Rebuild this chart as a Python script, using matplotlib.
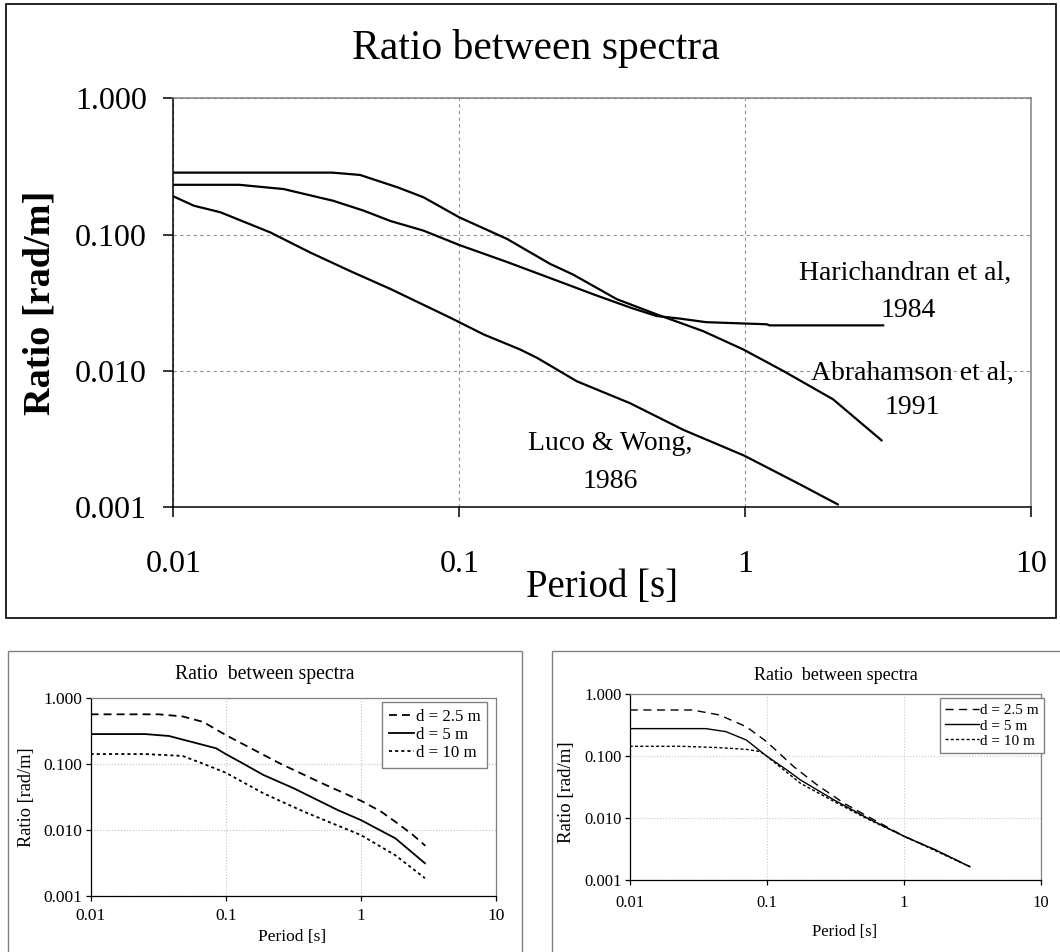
import matplotlib
matplotlib.use('Agg')
from matplotlib import pyplot as plt
from matplotlib.patches import Rectangle
from matplotlib.ticker import FixedLocator, NullLocator

plt.rcParams['font.family'] = ['Liberation Serif', 'DejaVu Serif']

W, H = 1060, 952

# ---- top chart: three published models
period_abr = [0.01, 0.036, 0.045, 0.061, 0.075, 0.10, 0.147, 0.208, 0.25, 0.356,
              0.491, 0.713, 0.984, 1.36, 2.03, 3.0]
ratio_abr = [0.285, 0.285, 0.274, 0.222, 0.188, 0.134, 0.093, 0.061, 0.051, 0.0336,
             0.026, 0.0196, 0.0144, 0.010, 0.0062, 0.0031]

period_har = [0.01, 0.017, 0.0243, 0.0363, 0.0463, 0.0574, 0.075, 0.10, 0.147, 0.208,
              0.30, 0.40, 0.49, 0.593, 0.73, 1.19, 1.22, 3.04]
ratio_har = [0.232, 0.232, 0.216, 0.177, 0.150, 0.126, 0.107, 0.084, 0.063, 0.048,
             0.036, 0.029, 0.0253, 0.0242, 0.0228, 0.022, 0.0216, 0.0216]

period_luco = [0.01, 0.0118, 0.0146, 0.0218, 0.0301, 0.0416, 0.0574, 0.093, 0.122,
               0.163, 0.187, 0.258, 0.396, 0.608, 0.99, 1.53, 2.11]
ratio_luco = [0.191, 0.163, 0.146, 0.104, 0.074, 0.054, 0.040, 0.0246, 0.0185,
              0.0144, 0.0125, 0.0084, 0.0058, 0.0037, 0.0024, 0.0015, 0.00105]

# ---- bottom left: separation distance d
period_l25 = [0.01, 0.032, 0.048, 0.068, 0.10, 0.20, 0.254, 0.50, 1.0, 1.4, 1.8, 2.4, 3.0]
ratio_l25 = [0.56, 0.56, 0.52, 0.43, 0.272, 0.129, 0.10, 0.052, 0.0275, 0.019, 0.0132, 0.0085, 0.0057]
period_l5 = [0.01, 0.0254, 0.038, 0.085, 0.10, 0.135, 0.19, 0.32, 0.676, 1.0, 1.8, 2.98]
ratio_l5 = [0.281, 0.281, 0.263, 0.171, 0.14, 0.10, 0.0675, 0.0422, 0.0198, 0.014, 0.0074, 0.0031]
period_l10 = [0.01, 0.0254, 0.048, 0.068, 0.10, 0.19, 0.38, 1.0, 1.8, 2.98]
ratio_l10 = [0.14, 0.14, 0.131, 0.10, 0.073, 0.0356, 0.0187, 0.0083, 0.0041, 0.00184]

# ---- bottom right
period_r25 = [0.01, 0.0286, 0.045, 0.0708, 0.0996, 0.157, 0.233, 0.367, 0.547, 1.0, 1.70, 3.03]
ratio_r25 = [0.558, 0.558, 0.464, 0.30, 0.172, 0.068, 0.0343, 0.0173, 0.0106, 0.0051, 0.00306, 0.00164]
period_r5 = [0.01, 0.0359, 0.0504, 0.0708, 0.10, 0.14, 0.176, 0.31, 0.547, 1.0, 1.70, 3.03]
ratio_r5 = [0.279, 0.279, 0.249, 0.183, 0.10, 0.060, 0.0413, 0.0196, 0.0099, 0.0051, 0.00306, 0.00164]
period_r10 = [0.01, 0.024, 0.045, 0.0708, 0.089, 0.10, 0.176, 0.31, 0.547, 1.0, 3.03]
ratio_r10 = [0.1445, 0.1445, 0.1375, 0.129, 0.119, 0.10, 0.0365, 0.0185, 0.0096, 0.0051, 0.00164]

legend_labels = ['d = 2.5 m', 'd = 5 m', 'd = 10 m']
xticks = [0.01, 0.1, 1, 10]
xtick_labels = ['0.01', '0.1', '1', '10']
yticks = [0.001, 0.01, 0.1, 1]
ytick_labels = ['0.001', '0.010', '0.100', '1.000']


def fx(px):
    return px / W


def fy(py):
    return 1 - py / H


def setup(ax, grid_style, grid_color, tick_fs, tl, xpad, ypad, spine_lw):
    ax.set_xscale('log')
    ax.set_yscale('log')
    ax.set_xlim(0.01, 10)
    ax.set_ylim(0.001, 1)
    ax.xaxis.set_major_locator(FixedLocator(xticks))
    ax.yaxis.set_major_locator(FixedLocator(yticks))
    ax.xaxis.set_minor_locator(NullLocator())
    ax.yaxis.set_minor_locator(NullLocator())
    ax.set_xticklabels(xtick_labels)
    ax.set_yticklabels(ytick_labels)
    ax.tick_params(axis='x', direction='out', length=tl, width=spine_lw, pad=xpad, labelsize=tick_fs)
    ax.tick_params(axis='y', direction='out', length=tl, width=spine_lw, pad=ypad, labelsize=tick_fs)
    ax.grid(True, which='major', color=grid_color, linestyle=grid_style, linewidth=0.8)
    for s in ['top', 'right']:
        ax.spines[s].set_color('#808080')
        ax.spines[s].set_linewidth(spine_lw)
    for s in ['left', 'bottom']:
        ax.spines[s].set_color('black')
        ax.spines[s].set_linewidth(spine_lw)
    ax.set_axisbelow(True)


fig = plt.figure(figsize=(W / 100, H / 100), dpi=100)

# frames around each chart
fig.patches.append(Rectangle((fx(6), fy(618)), fx(1050), 614 / H, transform=fig.transFigure,
                             fill=False, edgecolor='black', linewidth=1.2))
fig.patches.append(Rectangle((fx(7.5), -0.02), fx(514.5), fy(651) + 0.02, transform=fig.transFigure,
                             fill=False, edgecolor='#808080', linewidth=1.0))
fig.patches.append(Rectangle((fx(551.5), -0.02), fx(520), fy(651) + 0.02, transform=fig.transFigure,
                             fill=False, edgecolor='#808080', linewidth=1.0))

# ---------------- top chart
ax = fig.add_axes([fx(173.3), fy(507.3), 857.7 / W, 409 / H])
setup(ax, (0, (3, 3)), '#909090', 23, 7, 24, 12, 1.1)
ax.plot(period_abr, ratio_abr, color='black', linewidth=1.6)
ax.plot(period_har, ratio_har, color='black', linewidth=1.6)
ax.plot(period_luco, ratio_luco, color='black', linewidth=1.6)

ann_fs = 20
ax.text(0.853, 0.572, 'Harichandran et al,', transform=ax.transAxes, ha='center', va='center', fontsize=ann_fs)
ax.text(0.857, 0.480, '1984', transform=ax.transAxes, ha='center', va='center', fontsize=ann_fs)
ax.text(0.862, 0.328, 'Abrahamson et al,', transform=ax.transAxes, ha='center', va='center', fontsize=ann_fs)
ax.text(0.862, 0.243, '1991', transform=ax.transAxes, ha='center', va='center', fontsize=ann_fs)
ax.text(0.509, 0.157, 'Luco & Wong,', transform=ax.transAxes, ha='center', va='center', fontsize=ann_fs)
ax.text(0.510, 0.062, '1986', transform=ax.transAxes, ha='center', va='center', fontsize=ann_fs)

fig.text(fx(536), fy(48), 'Ratio between spectra', ha='center', va='center', fontsize=30)
fig.text(fx(602), fy(588), 'Period [s]', ha='center', va='center', fontsize=28)
fig.text(fx(40), fy(303), 'Ratio [rad/m]', ha='center', va='center', fontsize=27.5,
         fontweight='bold', rotation=90)

# ---------------- bottom left
ax2 = fig.add_axes([fx(90.6), fy(895.7), 405.4 / W, 198 / H])
setup(ax2, ':', '#c0c0c0', 12.5, 3.5, 5, 2.2, 0.9)
ax2.plot(period_l25, ratio_l25, color='black', linewidth=1.3, linestyle=(0, (4.4, 2.8)), label=legend_labels[0])
ax2.plot(period_l5, ratio_l5, color='black', linewidth=1.3, label=legend_labels[1])
ax2.plot(period_l10, ratio_l10, color='black', linewidth=1.3, linestyle=(0, (1.7, 1.7)), label=legend_labels[2])
leg = ax2.legend(loc='upper left', bbox_to_anchor=(fx(382), fy(702.3)), bbox_transform=fig.transFigure,
                 fontsize=12.2, frameon=True, fancybox=False, edgecolor='#808080', framealpha=1,
                 handlelength=1.5, handletextpad=0.1, borderpad=0.4, labelspacing=0.12, borderaxespad=0)
leg.get_frame().set_linewidth(1.0)
fig.text(fx(264.7), fy(675), 'Ratio  between spectra', ha='center', va='center', fontsize=14.2)
fig.text(fx(292.4), fy(937), 'Period [s]', ha='center', va='center', fontsize=12.5)
fig.text(fx(27), fy(797), 'Ratio [rad/m]', ha='center', va='center', fontsize=13.2, rotation=90)

# ---------------- bottom right
ax3 = fig.add_axes([fx(629.7), fy(880), 411.3 / W, 185.7 / H])
setup(ax3, ':', '#c8c8c8', 12, 3.5, 7, 2.2, 0.9)
ax3.plot(period_r25, ratio_r25, color='black', linewidth=1.0, linestyle=(0, (5.8, 4)), label=legend_labels[0])
ax3.plot(period_r5, ratio_r5, color='black', linewidth=1.0, label=legend_labels[1])
ax3.plot(period_r10, ratio_r10, color='black', linewidth=1.0, linestyle=(0, (2.2, 1.6)), label=legend_labels[2])
leg3 = ax3.legend(loc='upper left', bbox_to_anchor=(fx(940), fy(698.3)), bbox_transform=fig.transFigure,
                  fontsize=11, frameon=True, fancybox=False, edgecolor='#808080', framealpha=1,
                  handlelength=2.2, handletextpad=0.05, borderpad=0.35, labelspacing=0.1, borderaxespad=0)
leg3.get_frame().set_linewidth(1.0)
fig.text(fx(836), fy(675), 'Ratio  between spectra', ha='center', va='center', fontsize=13)
fig.text(fx(845), fy(931.7), 'Period [s]', ha='center', va='center', fontsize=12)
fig.text(fx(567), fy(791.7), 'Ratio [rad/m]', ha='center', va='center', fontsize=13.5, rotation=90)

fig.savefig('out.png', dpi=100)
